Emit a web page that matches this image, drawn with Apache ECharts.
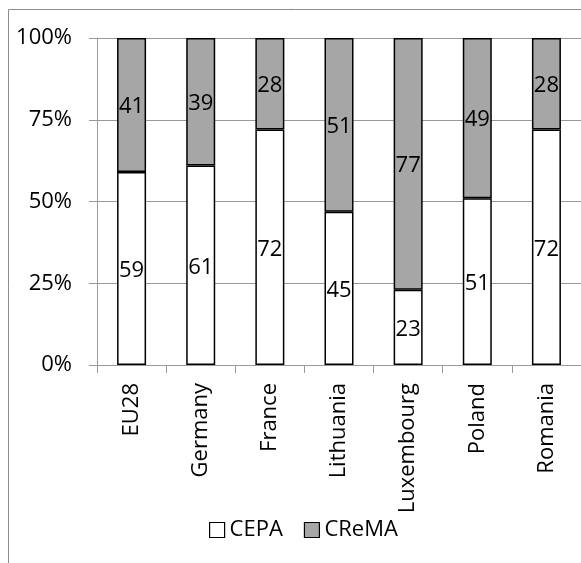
<!DOCTYPE html>
<html>
<head>
<meta charset="utf-8">
<style>
  html, body { margin: 0; padding: 0; background: #fff; }
  #chart { width: 581px; height: 563px; }
</style>
<script src="https://cdn.jsdelivr.net/npm/echarts@6/dist/echarts.min.js"></script>
</head>
<body>
<div id="chart"></div>
<script>
// Countries and the two expenditure shares
const categories = ['EU28', 'Germany', 'France', 'Lithuania', 'Luxembourg', 'Poland', 'Romania'];
const cepa = [59, 61, 72, 45, 23, 51, 72];
const crema = [41, 39, 28, 51, 77, 49, 28];
const yTicks = [0, 25, 50, 75, 100];

// 100% stacking: each bar is scaled to the sum of its two parts
const totals = categories.map((_, i) => cepa[i] + crema[i]);
const toShare = (arr) => arr.map((v, i) => ({ value: v / totals[i] * 100, raw: v }));

const FONT = 'Open Sans';
const GRID_COLOR = '#999999';

const chart = echarts.init(document.getElementById('chart'), null, { renderer: 'canvas' });

const labelCfg = {
  show: true,
  position: 'inside',
  color: '#000',
  fontFamily: FONT,
  fontSize: 22,
  offset: [0, 2],
  formatter: (p) => String(p.data.raw)
};

chart.setOption({
  animation: false,
  backgroundColor: '#fff',
  textStyle: { fontFamily: FONT },
  graphic: [{
    type: 'rect',
    shape: { x: 8.5, y: 9.5, width: 600, height: 600 },
    style: { fill: 'none', stroke: '#8c8c8c', lineWidth: 1 },
    silent: true,
    z: -1
  }],
  grid: { left: 97, top: 38, width: 494, bottom: 198, containLabel: false },
  legend: {
    left: 204,
    top: 514,
    itemWidth: 15,
    itemHeight: 15,
    itemGap: 21,
    textStyle: { fontFamily: FONT, fontSize: 22, color: '#000', padding: [0, 0, 0, 0] },
    icon: 'rect',
    data: [
      { name: 'CEPA', itemStyle: { color: '#fff', borderColor: '#000', borderWidth: 1.2 } },
      { name: 'CReMA', itemStyle: { color: '#a6a6a6', borderColor: '#000', borderWidth: 1.2 } }
    ]
  },
  xAxis: {
    type: 'category',
    data: categories,
    axisLine: { show: true, lineStyle: { color: GRID_COLOR, width: 1 } },
    axisTick: { show: true, length: 8, lineStyle: { color: GRID_COLOR } },
    axisLabel: {
      rotate: 90,
      margin: 18,
      color: '#000',
      fontFamily: FONT,
      fontSize: 22,
      interval: 0
    }
  },
  yAxis: {
    type: 'value',
    min: yTicks[0],
    max: yTicks[yTicks.length - 1],
    interval: 25,
    axisLine: { show: true, lineStyle: { color: GRID_COLOR, width: 1 } },
    axisTick: { show: true, length: 8, lineStyle: { color: GRID_COLOR } },
    splitLine: { show: true, lineStyle: { color: GRID_COLOR, width: 1 } },
    axisLabel: {
      margin: 25,
      color: '#000',
      fontFamily: FONT,
      fontSize: 22,
      formatter: '{value}%'
    }
  },
  series: [
    {
      name: 'CEPA',
      type: 'bar',
      stack: 'total',
      barWidth: 29,
      data: toShare(cepa),
      itemStyle: { color: '#fff', borderColor: '#000', borderWidth: 1.5 },
      label: labelCfg
    },
    {
      name: 'CReMA',
      type: 'bar',
      stack: 'total',
      barWidth: 29,
      data: toShare(crema),
      itemStyle: { color: '#a6a6a6', borderColor: '#000', borderWidth: 1.5 },
      label: labelCfg
    }
  ]
});
</script>
</body>
</html>
